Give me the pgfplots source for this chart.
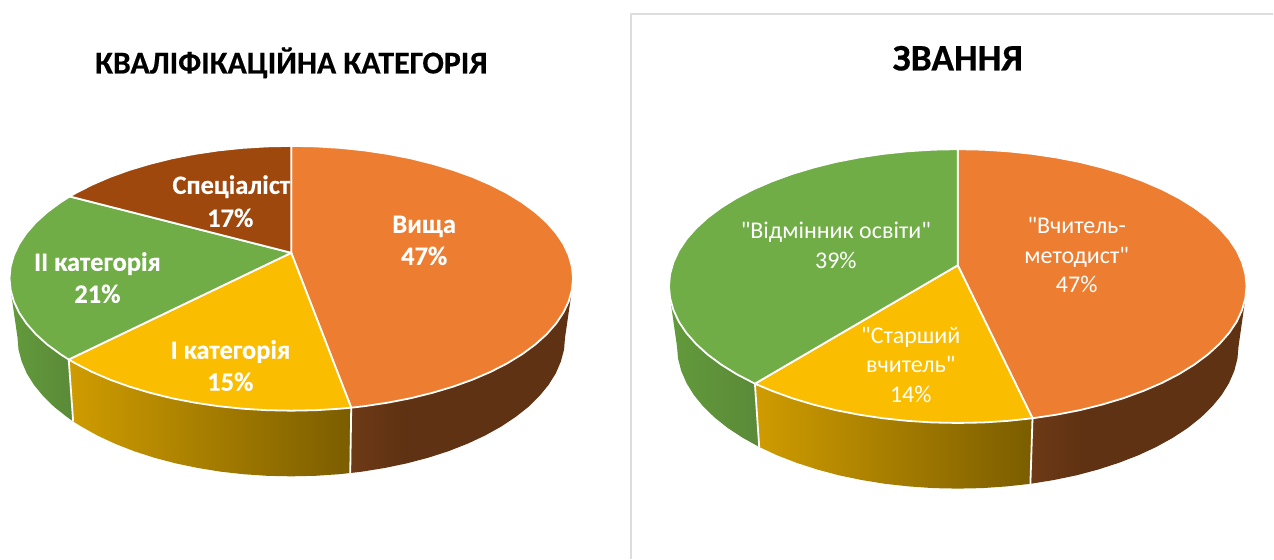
\documentclass[border=0pt]{standalone}
\usepackage{pgfplots}
\pgfplotsset{compat=1.18}
\usepackage{fontspec}
\setmainfont{Carlito}
\newfontfamily\plainf{Carlito}
\definecolor{cO}{HTML}{ED7D31}
\definecolor{cY}{HTML}{FBBD00}
\definecolor{cG}{HTML}{70AD47}
\definecolor{cB}{HTML}{9E480E}
\definecolor{sOa}{HTML}{6E3A16}
\definecolor{sOb}{HTML}{5F3213}
\definecolor{sYa}{HTML}{CF9C00}
\definecolor{sYb}{HTML}{7B5D00}
\definecolor{sGa}{HTML}{639A3C}
\definecolor{sGb}{HTML}{5A8A38}
\definecolor{frame}{HTML}{DDDDDD}
\pgfdeclarehorizontalshading{sideO}{100bp}{color(0bp)=(sOa); color(25bp)=(sOa); color(37bp)=(sOb); color(100bp)=(sOb)}
\newcommand{\lab}[4]{\node[anchor=base,text=#1,font=#2,inner sep=0pt] at (axis cs:#3) {#4};}
\begin{document}
\begin{tikzpicture}
\begin{axis}[
  scale only axis, width=1274pt, height=559pt,
  xmin=-0.5, xmax=1273.5, ymin=0, ymax=559, y dir=reverse,
  axis lines=none, clip=false, no markers,
  every axis plot/.append style={line join=round},
]
% frame of the right chart
\addplot[frame, line width=2pt] coordinates {(631,559) (631,14.5) (1273.5,14.5)};

% ---------- left pie: side walls
\addplot[draw=none, shade, shading=sideO] coordinates {(351,400) (571.9,290.0) (565.0,337.7) (564.0,349.8) (560.8,361.8) (555.7,373.7) (548.5,385.2) (539.3,396.4) (528.3,407.2) (515.4,417.4) (500.9,427.0) (484.7,436.0) (467.1,444.2) (448.2,451.6) (428.0,458.1) (406.8,463.7) (384.7,468.3) (361.9,472.0) (350,473.4)} -- cycle;
\addplot[draw=none, left color=sYa, right color=sYb] coordinates {(72.7,421.7) (81.1,427.0) (97.3,436.0) (114.9,444.2) (133.8,451.6) (154.0,458.1) (175.2,463.7) (197.3,468.3) (220.1,472.0) (243.4,474.6) (267.1,476.2) (291,476.7) (314.9,476.2) (338.6,474.6) (350,473.4) (351,400) (68.3,355)} -- cycle;
\addplot[draw=none, left color=sGa, right color=sGb] coordinates {(10.1,290.0) (17.0,337.7) (18.0,349.8) (21.2,361.8) (26.3,373.7) (33.5,385.2) (42.7,396.4) (53.7,407.2) (66.6,417.4) (72.7,421.7) (68.3,355)} -- cycle;
\addplot[white, line width=1.8pt] coordinates {(351,408) (350,473.4)};
\addplot[white, line width=1.8pt] coordinates {(68.3,360) (72.7,421.7)};

% ---------- left pie: top slices
\addplot[fill=cO, draw=white, line width=1.8pt] coordinates {(291,253) (291,146) (315.6,146.5) (340.0,148.0) (364.0,150.5) (387.5,154.0) (410.2,158.4) (432.0,163.8) (452.8,170.0) (472.3,177.0) (490.4,184.8) (507.0,193.3) (522.0,202.5) (535.2,212.25) (546.6,222.5) (556.0,233.2) (563.4,244.2) (568.7,255.5) (571.9,267.0) (573.0,278.5) (571.9,290.0) (568.7,301.5) (563.4,312.8) (556.0,323.8) (546.6,334.5) (535.2,344.8) (522.0,354.5) (507.0,363.7) (490.4,372.2) (472.3,380.0) (452.8,387.0) (432.0,393.2) (410.2,398.6) (387.5,403.0) (364.0,406.5) (351,408)} -- cycle;
\addplot[fill=cY, draw=white, line width=1.8pt] coordinates {(291,253) (351,408) (340.0,409.0) (315.6,410.5) (291,411) (266.4,410.5) (242.0,409.0) (218.0,406.5) (194.5,403.0) (171.8,398.6) (150.0,393.2) (129.2,387.0) (109.7,380.0) (91.6,372.2) (75.0,363.7) (68.3,359.8)} -- cycle;
\addplot[fill=cG, draw=white, line width=1.8pt] coordinates {(291,253) (68.3,359.8) (60.0,354.5) (46.8,344.8) (35.4,334.5) (26.0,323.8) (18.6,312.8) (13.3,301.5) (10.1,290.0) (9,278.5) (10.1,267.0) (13.3,255.5) (18.6,244.2) (26.0,233.2) (35.4,222.5) (46.8,212.25) (60.0,202.5) (69.3,196.6)} -- cycle;
\addplot[fill=cB, draw=white, line width=1.8pt] coordinates {(291,253) (69.3,196.6) (75.0,193.3) (91.6,184.8) (109.7,177.0) (129.2,170.0) (150.0,163.8) (171.8,158.4) (194.5,154.0) (218.0,150.5) (242.0,148.0) (266.4,146.5) (291,146)} -- cycle;

% ---------- right pie: side walls
\addplot[draw=none, shade, shading=sideO] coordinates {(1032.8,410) (1245.9,298.2) (1239,346.6) (1237.9,359.0) (1234.7,371.3) (1229.4,383.5) (1222.1,395.3) (1212.7,406.8) (1201.4,417.8) (1188.2,428.3) (1173.3,438.1) (1156.7,447.3) (1138.6,455.7) (1119.2,463.2) (1098.5,469.9) (1076.8,475.7) (1054.1,480.4) (1030.7,484.2)} -- cycle;
\addplot[draw=none, left color=sYa, right color=sYb] coordinates {(759.3,447.3) (777.4,455.7) (796.8,463.2) (817.5,469.9) (839.2,475.7) (861.9,480.4) (885.3,484.2) (909.2,486.8) (933.5,488.5) (958,489) (982.5,488.5) (1006.8,486.8) (1030.7,484.2) (1032.8,410) (755,378)} -- cycle;
\addplot[draw=none, left color=sGa, right color=sGb] coordinates {(670.1,298.2) (677,346.6) (678.1,359.0) (681.3,371.3) (686.6,383.5) (693.9,395.3) (703.3,406.8) (714.6,417.8) (727.8,428.3) (742.7,438.1) (759.3,447.3) (755,378)} -- cycle;
\addplot[white, line width=1.8pt] coordinates {(1032.8,418.6) (1030.7,484.2)};
\addplot[white, line width=1.8pt] coordinates {(755,384) (759.3,447.3)};

% ---------- right pie: top slices
\addplot[fill=cO, draw=white, line width=1.8pt] coordinates {(958,265.5) (958,149.3) (983.2,149.8) (1008.2,151.4) (1032.8,154.0) (1056.8,157.6) (1080.1,162.1) (1102.5,167.7) (1123.8,174.1) (1143.8,181.4) (1162.4,189.4) (1179.4,198.2) (1194.7,207.7) (1208.3,217.8) (1219.9,228.4) (1229.6,239.4) (1237.2,250.8) (1242.6,262.5) (1245.9,274.4) (1247,286.3) (1245.9,298.2) (1242.6,310.1) (1237.2,321.8) (1229.6,333.2) (1219.9,344.2) (1208.3,354.8) (1194.7,364.9) (1179.4,374.4) (1162.4,383.2) (1143.8,391.2) (1123.8,398.5) (1102.5,404.9) (1080.1,410.5) (1056.8,415.0) (1032.8,418.6)} -- cycle;
\addplot[fill=cY, draw=white, line width=1.8pt] coordinates {(958,265.5) (1032.8,418.6) (1008.2,421.2) (983.2,422.8) (958,423.3) (932.8,422.8) (907.8,421.2) (883.2,418.6) (859.2,415.0) (835.9,410.5) (813.5,404.9) (792.2,398.5) (772.2,391.2) (755,384)} -- cycle;
\addplot[fill=cG, draw=white, line width=1.8pt] coordinates {(958,265.5) (755,384) (736.6,374.4) (721.3,364.9) (707.7,354.8) (696.1,344.2) (686.4,333.2) (678.8,321.8) (673.4,310.1) (670.1,298.2) (669,286.3) (670.1,274.4) (673.4,262.5) (678.8,250.8) (686.4,239.4) (696.1,228.4) (707.7,217.8) (721.3,207.7) (736.6,198.2) (753.6,189.4) (772.2,181.4) (792.2,174.1) (813.5,167.7) (835.9,162.1) (859.2,157.6) (883.2,154.0) (907.8,151.4) (932.8,149.8) (958,149.3)} -- cycle;

% ---------- titles
\lab{black}{\fontsize{31.8}{32}\selectfont\bfseries\addfontfeature{FakeBold=0.4}}{291,73.5}{КВАЛІФІКАЦІЙНА КАТЕГОРІЯ}
\lab{black}{\fontsize{37.5}{38}\selectfont\bfseries\addfontfeature{FakeBold=0.4}}{958,70.5}{ЗВАННЯ}

% ---------- left labels
\def\fl{\fontsize{26.5}{27}\selectfont\bfseries\addfontfeature{FakeBold=0.3}}
\lab{white}{\fl}{424,233}{Вища}
\lab{white}{\fl}{424,265}{47\%}
\lab{white}{\fl}{231,194}{Спеціаліст}
\lab{white}{\fl}{230,227}{17\%}
\lab{white}{\fl}{97,271}{ІІ категорія}
\lab{white}{\fl}{97,303}{21\%}
\lab{white}{\fl}{230,359}{І категорія}
\lab{white}{\fl}{230,391}{15\%}

% ---------- right labels
\def\fr{\plainf\fontsize{24}{24}\selectfont}
\lab{white}{\fr}{1077,234}{"Вчитель-}
\lab{white}{\fr}{1077,264}{методист"}
\lab{white}{\fr}{1077,293}{47\%}
\lab{white}{\fr}{836,239}{"Відмінник освіти"}
\lab{white}{\fr}{836,269}{39\%}
\lab{white}{\fr}{911,344}{"Старший}
\lab{white}{\fr}{911,373}{вчитель"}
\lab{white}{\fr}{911,403}{14\%}
\end{axis}
\useasboundingbox (0,0) rectangle (1274pt,559pt);
\end{tikzpicture}
\end{document}
